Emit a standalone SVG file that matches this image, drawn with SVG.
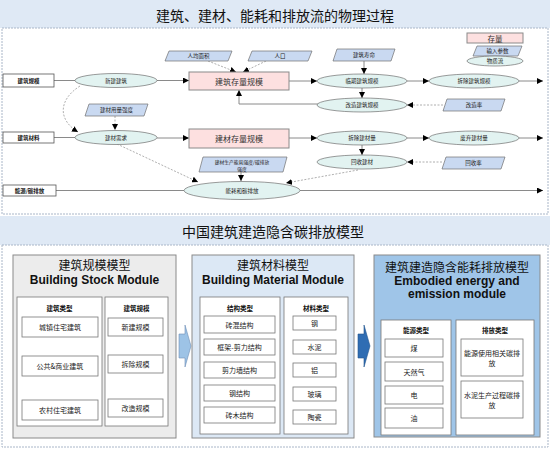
<svg xmlns="http://www.w3.org/2000/svg" width="550" height="449" viewBox="0 0 550 449">
<defs>
<marker id="ah" viewBox="0 0 10 10" refX="10" refY="5" markerWidth="6" markerHeight="6" markerUnits="userSpaceOnUse" orient="auto"><path d="M0,0 L10,5 L0,10 z" fill="#000"/></marker>
<style>
.band{fill:#dfe9f5;stroke:none}
.panel{fill:#fff;stroke:#a9b6c8;stroke-width:1;stroke-dasharray:2,1}
.h1{font-family:"Noto Sans CJK SC",sans-serif;font-size:14px;fill:#111;text-anchor:middle}
.stock{fill:#fde0e0;stroke:#8a8a8a;stroke-width:1}
.param{fill:#c9d9f1;stroke:#707070;stroke-width:0.7}
.flow{fill:#e2f3f1;stroke:#707070;stroke-width:0.7}
.lbl{fill:#fff;stroke:#555;stroke-width:0.8}
.t{font-family:"Noto Sans CJK SC",sans-serif;font-size:5.5px;fill:#222;text-anchor:middle;dominant-baseline:central}
.tb{font-family:"Noto Sans CJK SC",sans-serif;font-size:5.5px;font-weight:bold;fill:#111;text-anchor:middle;dominant-baseline:central}
.ts{font-family:"Noto Sans CJK SC",sans-serif;font-size:8px;fill:#333;text-anchor:middle;dominant-baseline:central}
.line{fill:none;stroke:#8a8a8a;stroke-width:1}
.dash{fill:none;stroke:#9a9a9a;stroke-width:0.8;stroke-dasharray:2,1.5}
.mt{font-family:"Noto Sans CJK SC",sans-serif;font-size:12px;fill:#111;text-anchor:middle}
.me{font-family:"Liberation Sans",Arial,sans-serif;font-size:12px;font-weight:bold;fill:#111;text-anchor:middle}
.col{fill:#fff;stroke:#777;stroke-width:0.8}
.item{fill:#fff;stroke:#777;stroke-width:0.8}
.ch{font-family:"Noto Sans CJK SC",sans-serif;font-size:6.5px;font-weight:bold;fill:#111;text-anchor:middle;dominant-baseline:central}
.it{font-family:"Noto Sans CJK SC",sans-serif;font-size:7px;fill:#222;text-anchor:middle;dominant-baseline:central}
</style>
</defs>
<rect width="550" height="449" fill="#fff"/>
<!-- top section -->
<rect class="band" x="0" y="0" width="550" height="28"/>
<text class="h1" x="275" y="21">建筑、建材、能耗和排放流的物理过程</text>
<rect class="panel" x="2" y="28" width="546" height="186"/>

<!-- connectors top -->
<g id="connectors">
<path class="line" d="M54,80.5 H75"/>
<path class="line" d="M157,80.5 H189" marker-end="url(#ah)"/>
<path class="line" d="M289,81 H317" marker-end="url(#ah)"/>
<path class="line" d="M407,81 H429" marker-end="url(#ah)"/>
<path class="line" d="M519,81 H543" marker-end="url(#ah)"/>
<path class="line" d="M364,61 V74" marker-end="url(#ah)"/>
<path class="line" d="M362,88 V98" marker-end="url(#ah)"/>
<path class="line" d="M318,104 H239 V90" marker-end="url(#ah)"/>
<path class="dash" d="M443,105 H407" marker-end="url(#ah)"/>
<path class="dash" d="M208,61 L236,72" marker-end="url(#ah)"/>
<path class="dash" d="M266,61 L243,72" marker-end="url(#ah)"/>
<path class="dash" d="M80,86 C58,100 58,120 78,132" marker-end="url(#ah)"/>
<path class="dash" d="M115,116 V130" marker-end="url(#ah)"/>
<path class="line" d="M54,137.5 H75"/>
<path class="line" d="M157,138 H189" marker-end="url(#ah)"/>
<path class="line" d="M289,138 H317" marker-end="url(#ah)"/>
<path class="line" d="M407,138 H429" marker-end="url(#ah)"/>
<path class="line" d="M519,138 H543" marker-end="url(#ah)"/>
<path class="line" d="M362,145 V155" marker-end="url(#ah)"/>
<path class="dash" d="M442,162 H407" marker-end="url(#ah)"/>
<path class="dash" d="M117,144 L198,182" marker-end="url(#ah)"/>
<path class="dash" d="M358,170 L286,183" marker-end="url(#ah)"/>
<path class="line" d="M241,172 V181" marker-end="url(#ah)"/>
<path class="line" d="M56,190.5 H184"/>
<path class="line" d="M300,190.5 H543" marker-end="url(#ah)"/>
</g>

<!-- row 1 -->
<g id="n-jzgm"><rect class="lbl" x="3" y="74" width="51" height="13"/><text class="tb" x="28.5" y="80.5">建筑规模</text></g>
<g id="n-xjjz"><ellipse class="flow" cx="116" cy="80.5" rx="41" ry="7"/><text class="t" x="116" y="80.5">新建建筑</text></g>
<g id="n-jzcl"><rect class="stock" x="189" y="72" width="100" height="18"/><text class="ts" x="239" y="81">建筑存量规模</text></g>
<g id="n-rjmj"><polygon class="param" points="169,51 232,51 228,61 165,61"/><text class="t" x="198.5" y="56">人均面积</text></g>
<g id="n-rk"><polygon class="param" points="252,51 312,51 308,61 248,61"/><text class="t" x="280" y="56">人口</text></g>
<g id="n-jzsm"><polygon class="param" points="337,49 395,49 391,61 333,61"/><text class="t" x="364" y="55">建筑寿命</text></g>
<g id="n-lqjz"><ellipse class="flow" cx="362" cy="81" rx="45" ry="7"/><text class="t" x="362" y="81">临期建筑规模</text></g>
<g id="n-ccjz"><ellipse class="flow" cx="474" cy="81" rx="45" ry="7"/><text class="t" x="474" y="81">拆除建筑规模</text></g>
<g id="n-gzjz"><ellipse class="flow" cx="362" cy="105" rx="45" ry="7"/><text class="t" x="362" y="105">改造建筑规模</text></g>
<g id="n-gzl"><polygon class="param" points="447,99 505,99 501,111 443,111"/><text class="t" x="474" y="105">改造率</text></g>

<!-- legend -->
<g id="legend">
<rect class="stock" x="467" y="33" width="56" height="10"/><text class="ts" x="495" y="38" style="font-size:7.5px">存量</text>
<polygon class="param" points="477,46 522,46 518,56 473,56"/><text class="t" x="497.5" y="51">输入参数</text>
<ellipse class="flow" cx="495" cy="61" rx="28" ry="5"/><text class="t" x="495" y="61">物质流</text>
</g>

<!-- row 2 -->
<g id="n-jccl"><rect class="lbl" x="3" y="132" width="51" height="11"/><text class="tb" x="28.5" y="137.5">建筑材料</text></g>
<g id="n-jcyl"><polygon class="param" points="89,104 148,104 144,116 85,116"/><text class="t" x="116.5" y="110">建材用量强度</text></g>
<g id="n-jcxq"><ellipse class="flow" cx="116" cy="137.5" rx="41" ry="7"/><text class="t" x="116" y="137.5">建材需求</text></g>
<g id="n-jccg"><rect class="stock" x="189" y="129" width="100" height="19"/><text class="ts" x="239" y="138.5">建材存量规模</text></g>
<g id="n-ccjc"><ellipse class="flow" cx="362" cy="138" rx="45" ry="7"/><text class="t" x="362" y="138">拆除建材量</text></g>
<g id="n-fqjc"><ellipse class="flow" cx="474" cy="138" rx="45" ry="7"/><text class="t" x="474" y="138">废弃建材量</text></g>
<g id="n-hsjc"><ellipse class="flow" cx="362" cy="162" rx="45" ry="7"/><text class="t" x="362" y="162">回收建材</text></g>
<g id="n-hsl"><polygon class="param" points="446,157 505,157 501,169 442,169"/><text class="t" x="473.5" y="163">回收率</text></g>
<g id="n-scqd"><polygon class="param" points="203,157 287,157 283,172 199,172"/><text class="t" x="242" y="161" style="font-size:4.8px">建材生产能耗强度/碳排放</text><text class="t" x="242" y="168" style="font-size:4.8px">强度</text></g>

<!-- row 3 -->
<g id="n-nytp"><rect class="lbl" x="3" y="185" width="53" height="11"/><text class="tb" x="29.5" y="190.5">能源/碳排放</text></g>
<g id="n-nhtp"><ellipse class="flow" cx="242" cy="190.5" rx="58" ry="9"/><text class="t" x="242" y="190.5">能耗和碳排放</text></g>

<!-- bottom section -->
<rect class="band" x="0" y="216" width="550" height="29"/>
<text class="h1" x="273" y="237">中国建筑建造隐含碳排放模型</text>
<rect class="panel" x="2" y="245" width="546" height="202"/>

<!-- module 1 -->
<g id="m-stock">
<rect x="13" y="255" width="163" height="183" fill="#ececec" stroke="#8a8a8a" stroke-width="1"/>
<text class="mt" x="94.5" y="270">建筑规模模型</text>
<text class="me" x="94.5" y="284">Building Stock Module</text>
<rect class="col" x="17" y="297" width="85" height="129"/>
<text class="ch" x="59.5" y="308">建筑类型</text>
<rect class="col" x="105" y="297" width="63" height="129"/>
<text class="ch" x="136.5" y="308">建筑规模</text>
<rect class="item" x="22" y="317" width="76" height="20"/><text class="it" x="60" y="327">城镇住宅建筑</text>
<rect class="item" x="22" y="356" width="76" height="20"/><text class="it" x="60" y="366">公共&amp;商业建筑</text>
<rect class="item" x="22" y="400" width="76" height="20"/><text class="it" x="60" y="410">农村住宅建筑</text>
<rect class="item" x="108" y="318" width="55" height="18"/><text class="it" x="135.5" y="327">新建规模</text>
<rect class="item" x="108" y="355" width="55" height="18"/><text class="it" x="135.5" y="364">拆除规模</text>
<rect class="item" x="108" y="399" width="55" height="18"/><text class="it" x="135.5" y="408">改造规模</text>
</g>

<!-- block arrows -->
<g id="arrows">
<path d="M179,334 H185 V325 L191,346 L185,367 V358 H179 Z" fill="#9dc3e6" stroke="#6f8fb5" stroke-width="0.6"/>
<path d="M358,334 H364 V325 L370,346 L364,367 V358 H358 Z" fill="#2f6db3" stroke="#23558f" stroke-width="0.6"/>
</g>

<!-- module 2 -->
<g id="m-material">
<rect x="192" y="255" width="162" height="183" fill="#dce8f5" stroke="#8a8a8a" stroke-width="1"/>
<text class="mt" x="273" y="270">建筑材料模型</text>
<text class="me" x="273" y="284">Building Material Module</text>
<rect class="col" x="200" y="297" width="80" height="137"/>
<text class="ch" x="240" y="308">结构类型</text>
<rect class="col" x="284" y="297" width="64" height="137"/>
<text class="ch" x="316" y="308">材料类型</text>
<rect class="item" x="204" y="316" width="71" height="17"/><text class="it" x="239.5" y="324.5">砖混结构</text>
<rect class="item" x="204" y="339" width="71" height="16"/><text class="it" x="239.5" y="347">框架-剪力结构</text>
<rect class="item" x="204" y="362" width="71" height="16"/><text class="it" x="239.5" y="370">剪力墙结构</text>
<rect class="item" x="204" y="385" width="71" height="16"/><text class="it" x="239.5" y="393">钢结构</text>
<rect class="item" x="204" y="407" width="71" height="16"/><text class="it" x="239.5" y="415">砖木结构</text>
<rect class="item" x="293" y="316" width="43" height="14"/><text class="it" x="314.5" y="323">钢</text>
<rect class="item" x="293" y="340" width="43" height="14"/><text class="it" x="314.5" y="347">水泥</text>
<rect class="item" x="293" y="363" width="43" height="14"/><text class="it" x="314.5" y="370">铝</text>
<rect class="item" x="293" y="387" width="43" height="14"/><text class="it" x="314.5" y="394">玻璃</text>
<rect class="item" x="293" y="410" width="43" height="14"/><text class="it" x="314.5" y="417">陶瓷</text>
</g>

<!-- module 3 -->
<g id="m-emission">
<rect x="374" y="255" width="166" height="182" fill="#9fc5e8" stroke="#8a8a8a" stroke-width="1"/>
<text class="mt" x="457" y="272">建筑建造隐含能耗排放模型</text>
<text class="me" x="457" y="285">Embodied energy and</text>
<text class="me" x="457" y="298">emission module</text>
<rect class="col" x="381" y="320" width="70" height="115"/>
<text class="ch" x="416" y="330">能源类型</text>
<rect class="col" x="456" y="320" width="78" height="115"/>
<text class="ch" x="495" y="330">排放类型</text>
<rect class="item" x="385" y="339" width="58" height="18"/><text class="it" x="414" y="348">煤</text>
<rect class="item" x="385" y="362" width="58" height="19"/><text class="it" x="414" y="371.5">天然气</text>
<rect class="item" x="385" y="386" width="58" height="18"/><text class="it" x="414" y="395">电</text>
<rect class="item" x="385" y="408" width="58" height="20"/><text class="it" x="414" y="418">油</text>
<rect class="item" x="461" y="339" width="62" height="37"/><text class="it" x="492" y="353">能源使用相关碳排</text><text class="it" x="492" y="363">放</text>
<rect class="item" x="461" y="381" width="62" height="37"/><text class="it" x="492" y="395">水泥生产过程碳排</text><text class="it" x="492" y="405">放</text>
</g>
</svg>
